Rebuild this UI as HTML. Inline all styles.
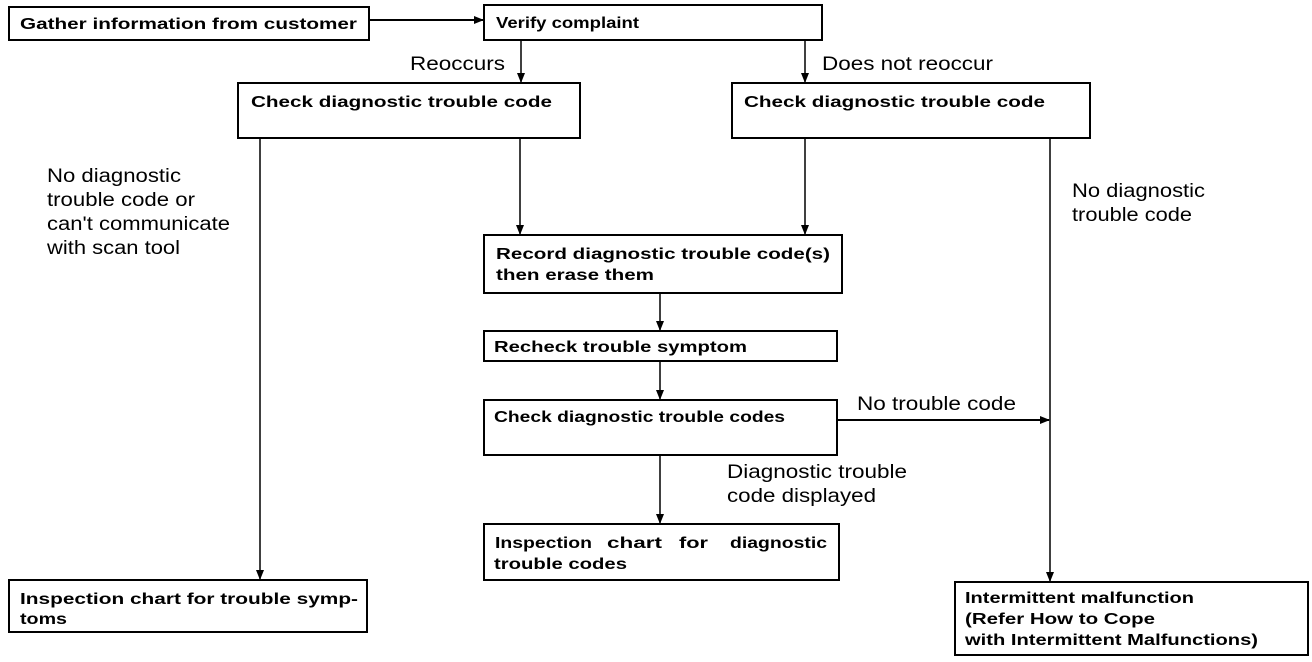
<!DOCTYPE html>
<html><head><meta charset="utf-8"><style>
body{margin:0;background:#fff}
svg{display:block}
.b{font-family:"Liberation Sans",Arial,sans-serif;font-weight:bold;font-size:16px}
.n{font-family:"Liberation Sans",Arial,sans-serif;font-size:19px}
rect{fill:#fff;stroke:#000;stroke-width:2}
line{stroke:#000;stroke-width:1.5}
</style></head><body>
<svg width="1312" height="662" viewBox="0 0 1312 662" xmlns="http://www.w3.org/2000/svg">
<defs><marker id="a" markerWidth="10" markerHeight="10" refX="9" refY="5" orient="auto" markerUnits="userSpaceOnUse"><path d="M0,1 L10,5 L0,9 Z" fill="#000"/></marker></defs>
<line x1="369" y1="20" x2="483" y2="20" marker-end="url(#a)" style="stroke-width:2"/>
<line x1="521" y1="40" x2="521" y2="82" marker-end="url(#a)"/>
<line x1="805" y1="40" x2="805" y2="82" marker-end="url(#a)"/>
<line x1="260" y1="138" x2="260" y2="579" marker-end="url(#a)"/>
<line x1="520" y1="138" x2="520" y2="234" marker-end="url(#a)"/>
<line x1="805" y1="138" x2="805" y2="234" marker-end="url(#a)"/>
<line x1="1050" y1="138" x2="1050" y2="581" marker-end="url(#a)"/>
<line x1="660" y1="293" x2="660" y2="330" marker-end="url(#a)"/>
<line x1="660" y1="361" x2="660" y2="399" marker-end="url(#a)"/>
<line x1="660" y1="455" x2="660" y2="523" marker-end="url(#a)"/>
<line x1="837" y1="420" x2="1049" y2="420" marker-end="url(#a)" style="stroke-width:2"/>
<rect x="9" y="7" width="360" height="33"/>
<rect x="484" y="5" width="338" height="35"/>
<rect x="238" y="83" width="342" height="55"/>
<rect x="732" y="83" width="358" height="55"/>
<rect x="484" y="235" width="358" height="58"/>
<rect x="484" y="331" width="353" height="30"/>
<rect x="484" y="400" width="353" height="55"/>
<rect x="484" y="524" width="355" height="56"/>
<rect x="9" y="580" width="358" height="52"/>
<rect x="955" y="582" width="353" height="73"/>
<g class="b">
<text x="20" y="29" textLength="337" lengthAdjust="spacingAndGlyphs">Gather information from customer</text>
<text x="496" y="28" textLength="143" lengthAdjust="spacingAndGlyphs">Verify complaint</text>
<text x="251" y="107" textLength="301" lengthAdjust="spacingAndGlyphs">Check diagnostic trouble code</text>
<text x="744" y="107" textLength="301" lengthAdjust="spacingAndGlyphs">Check diagnostic trouble code</text>
<text x="496" y="259" textLength="334" lengthAdjust="spacingAndGlyphs">Record diagnostic trouble code(s)</text>
<text x="496" y="280" textLength="158" lengthAdjust="spacingAndGlyphs">then erase them</text>
<text x="494" y="352" textLength="253" lengthAdjust="spacingAndGlyphs">Recheck trouble symptom</text>
<text x="494" y="422" textLength="291" lengthAdjust="spacingAndGlyphs">Check diagnostic trouble codes</text>
<text x="495" y="548" textLength="97" lengthAdjust="spacingAndGlyphs">Inspection</text>
<text x="607" y="548" textLength="55" lengthAdjust="spacingAndGlyphs">chart</text>
<text x="679" y="548" textLength="29" lengthAdjust="spacingAndGlyphs">for</text>
<text x="730" y="548" textLength="97" lengthAdjust="spacingAndGlyphs">diagnostic</text>
<text x="494" y="569" textLength="133" lengthAdjust="spacingAndGlyphs">trouble codes</text>
<text x="20" y="604" textLength="338" lengthAdjust="spacingAndGlyphs">Inspection chart for trouble symp-</text>
<text x="20" y="624" textLength="47" lengthAdjust="spacingAndGlyphs">toms</text>
<text x="965" y="603" textLength="229" lengthAdjust="spacingAndGlyphs">Intermittent malfunction</text>
<text x="965" y="624" textLength="190" lengthAdjust="spacingAndGlyphs">(Refer How to Cope</text>
<text x="965" y="645" textLength="293" lengthAdjust="spacingAndGlyphs">with Intermittent Malfunctions)</text>
</g>
<g class="n">
<text x="410" y="70" textLength="95" lengthAdjust="spacingAndGlyphs">Reoccurs</text>
<text x="822" y="70" textLength="171" lengthAdjust="spacingAndGlyphs">Does not reoccur</text>
<text x="47" y="182" textLength="134" lengthAdjust="spacingAndGlyphs">No diagnostic</text>
<text x="47" y="206" textLength="148" lengthAdjust="spacingAndGlyphs">trouble code or</text>
<text x="47" y="230" textLength="183" lengthAdjust="spacingAndGlyphs">can't communicate</text>
<text x="47" y="254" textLength="133" lengthAdjust="spacingAndGlyphs">with scan tool</text>
<text x="1072" y="197" textLength="133" lengthAdjust="spacingAndGlyphs">No diagnostic</text>
<text x="1072" y="221" textLength="120" lengthAdjust="spacingAndGlyphs">trouble code</text>
<text x="857" y="410" textLength="159" lengthAdjust="spacingAndGlyphs">No trouble code</text>
<text x="727" y="478" textLength="180" lengthAdjust="spacingAndGlyphs">Diagnostic trouble</text>
<text x="727" y="502" textLength="149" lengthAdjust="spacingAndGlyphs">code displayed</text>
</g>
</svg>
</body></html>
